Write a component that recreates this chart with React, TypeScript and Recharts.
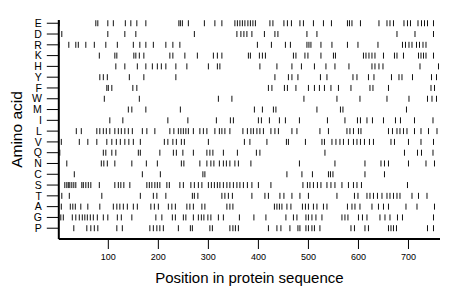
import React from 'react';
import { ScatterChart, Scatter, XAxis, YAxis } from 'recharts';

// Residue letters, listed top to bottom
const aminoAcids = ['E', 'D', 'R', 'K', 'H', 'Y', 'F', 'W', 'M', 'I', 'L', 'V', 'Q', 'N', 'C', 'S', 'T', 'A', 'G', 'P'];

// Positions of each residue along the sequence
const posE = [2, 75, 79, 99, 110, 134, 145, 157, 175, 241, 244, 248, 260, 292, 313, 327, 353, 358, 363, 368, 373, 379, 384, 389, 394, 423, 429, 451, 458, 466, 483, 490, 510, 530, 546, 578, 582, 587, 604, 641, 657, 663, 670, 691, 698, 704, 719, 726, 732, 738, 750];
const posD = [7, 99, 133, 155, 272, 357, 365, 371, 377, 387, 412, 433, 439, 497, 517, 677, 713, 750];
const posR = [2, 21, 35, 40, 55, 72, 95, 118, 150, 163, 175, 190, 215, 229, 243, 398, 426, 454, 464, 497, 501, 505, 525, 547, 578, 599, 639, 688, 694, 701, 707, 716, 722, 729, 735];
const posK = [82, 113, 117, 151, 155, 162, 171, 223, 229, 253, 278, 310, 318, 327, 380, 384, 402, 408, 414, 470, 475, 493, 499, 525, 550, 554, 610, 615, 621, 627, 633, 650, 672, 677, 690, 720, 725, 730, 735, 750];
const posH = [115, 133, 158, 175, 188, 198, 206, 215, 235, 257, 300, 318, 323, 403, 437, 467, 486, 512, 535, 553, 581, 627, 633, 641, 649, 723, 760];
const posY = [83, 90, 98, 142, 171, 235, 433, 460, 467, 479, 524, 537, 589, 597, 620, 631, 666, 681, 687, 708, 746, 756];
const posF = [97, 100, 107, 149, 157, 420, 427, 452, 458, 475, 500, 512, 522, 532, 545, 560, 585, 623, 629, 660, 745, 752];
const posW = [92, 162, 320, 347, 491, 557, 603, 657, 701, 738, 747, 756];
const posM = [140, 147, 175, 244, 392, 408, 430, 435, 517, 564, 569, 696];
const posI = [103, 129, 219, 259, 316, 344, 350, 400, 406, 422, 442, 454, 482, 538, 573, 598, 604, 617, 628, 650, 674, 684, 712, 749];
const posL = [36, 46, 77, 83, 90, 96, 103, 113, 120, 126, 133, 140, 148, 168, 177, 193, 223, 231, 240, 245, 250, 255, 260, 270, 283, 290, 297, 313, 322, 327, 333, 343, 369, 378, 385, 390, 397, 403, 410, 425, 433, 440, 467, 477, 523, 540, 577, 583, 590, 600, 605, 660, 668, 677, 683, 690, 697, 712, 725, 740, 757];
const posV = [6, 42, 59, 77, 97, 107, 116, 124, 133, 141, 150, 164, 212, 219, 229, 236, 246, 252, 300, 372, 383, 417, 456, 460, 494, 527, 532, 547, 555, 563, 570, 580, 590, 597, 604, 612, 622, 630, 665, 672, 700, 725, 750];
const posQ = [3, 90, 95, 107, 115, 160, 164, 203, 230, 236, 249, 270, 297, 303, 309, 330, 358, 396, 403, 533, 692, 718, 726, 749];
const posN = [17, 86, 91, 98, 113, 147, 176, 198, 246, 251, 283, 297, 305, 311, 322, 330, 336, 343, 353, 360, 385, 482, 553, 613, 645, 652, 660, 700, 735, 752];
const posC = [32, 168, 204, 289, 293, 457, 487, 508, 540, 544, 549, 613, 652];
const posS = [13, 17, 20, 23, 27, 31, 35, 47, 50, 55, 60, 65, 82, 113, 120, 125, 131, 143, 177, 182, 187, 193, 198, 203, 217, 222, 243, 250, 265, 272, 280, 287, 300, 306, 312, 318, 323, 330, 337, 343, 350, 357, 363, 370, 378, 387, 400, 425, 489, 498, 503, 510, 518, 525, 537, 545, 553, 567, 580, 590, 597, 606, 698];
const posT = [7, 22, 87, 164, 190, 197, 215, 268, 272, 279, 327, 333, 340, 348, 387, 413, 420, 443, 451, 467, 483, 500, 557, 592, 599, 617, 623, 630, 638, 647, 657, 663, 670, 677, 683, 707, 720, 737];
const posA = [6, 24, 29, 34, 45, 59, 83, 110, 117, 123, 130, 138, 150, 158, 185, 192, 200, 220, 227, 234, 257, 263, 270, 287, 293, 337, 343, 349, 432, 437, 442, 447, 457, 465, 488, 494, 500, 510, 517, 530, 537, 578, 587, 593, 603, 627, 640, 650, 660, 695, 717, 752];
const posG = [5, 10, 28, 35, 42, 48, 53, 58, 64, 70, 78, 90, 99, 118, 126, 147, 195, 207, 228, 234, 250, 255, 270, 280, 286, 291, 299, 305, 320, 330, 362, 391, 415, 455, 470, 477, 495, 500, 507, 515, 527, 567, 573, 579, 600, 608, 617, 643, 653, 663, 678, 688, 750];
const posP = [31, 57, 65, 72, 79, 117, 128, 183, 190, 197, 203, 210, 240, 264, 268, 303, 308, 343, 349, 354, 360, 420, 437, 445, 463, 479, 483, 495, 500, 507, 512, 523, 585, 592, 613, 620, 660, 665, 670, 676, 738, 750];

const positions = [posE, posD, posR, posK, posH, posY, posF, posW, posM, posI, posL, posV, posQ, posN, posC, posS, posT, posA, posG, posP];

const xTicks = [100, 200, 300, 400, 500, 600, 700];
const sequenceLength = 763;

const rowValue = (i: number) => aminoAcids.length - i;
const yTicks = aminoAcids.map((_, i) => rowValue(i));
const letterFor = (v: number) => aminoAcids[aminoAcids.length - v] ?? '';

const rows = aminoAcids.map((aa, i) => ({
  aa,
  data: positions[i].map((p) => ({ x: p, y: rowValue(i) })),
}));

const FONT = '"Liberation Sans", Arial, Helvetica, sans-serif';

const Dash = (props: any) => {
  const { cx, cy } = props;
  if (cx == null || cy == null) return null;
  return <line x1={cx} x2={cx} y1={cy - 3} y2={cy + 3} stroke="#111" strokeWidth={1} />;
};

const XTitle = (props: any) => {
  const vb = props.viewBox || {};
  const cx = vb.x + vb.width / 2;
  return (
    <text x={cx} y={vb.y + 44} textAnchor="middle" fontFamily={FONT} fontSize={15} fill="#000">
      Position in protein sequence
    </text>
  );
};

const YTitle = (props: any) => {
  const vb = props.viewBox || {};
  const cy = vb.y + vb.height / 2;
  const cx = 16.5;
  return (
    <text
      x={cx}
      y={cy}
      transform={`rotate(-90 ${cx} ${cy})`}
      textAnchor="middle"
      dominantBaseline="central"
      fontFamily={FONT}
      fontSize={15.5}
      fill="#000"
    >
      Amino acid
    </text>
  );
};

export default function App() {
  return (
    <div style={{ position: 'absolute', left: 0, top: 0, width: 460, height: 299, background: '#fff' }}>
      <ScatterChart width={460} height={299} margin={{ top: 20, right: 20, bottom: 0, left: 0 }}>
        <XAxis
          type="number"
          dataKey="x"
          domain={[1, sequenceLength]}
          ticks={xTicks}
          allowDataOverflow
          height={60}
          tickSize={10}
          tickMargin={5}
          axisLine={{ stroke: '#000', strokeWidth: 2 }}
          tickLine={{ stroke: '#000', strokeWidth: 1 }}
          tick={{ fontSize: 9, fill: '#000', fontFamily: FONT }}
          label={<XTitle />}
        />
        <YAxis
          type="number"
          dataKey="y"
          domain={[0, 20.3]}
          ticks={yTicks}
          allowDataOverflow
          width={58.8}
          tickSize={12}
          tickMargin={5}
          interval={0}
          tickFormatter={letterFor}
          axisLine={{ stroke: '#000', strokeWidth: 2 }}
          tickLine={{ stroke: '#000', strokeWidth: 1 }}
          tick={{ fontSize: 10.5, fill: '#000', fontFamily: FONT }}
          label={<YTitle />}
        />
        {rows.map((r) => (
          <Scatter key={r.aa} name={r.aa} data={r.data} shape={<Dash />} isAnimationActive={false} />
        ))}
      </ScatterChart>
    </div>
  );
}
